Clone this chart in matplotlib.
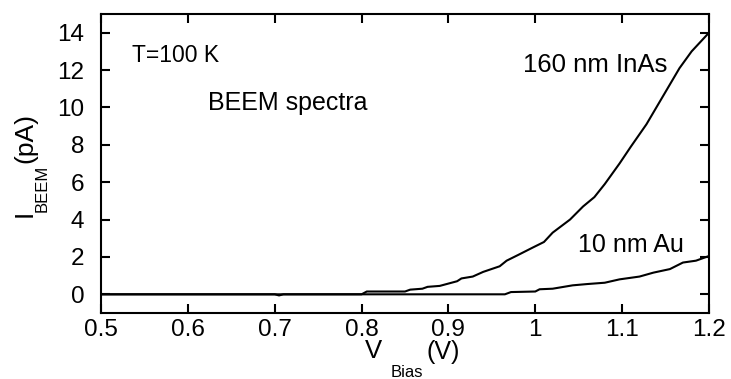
import numpy as np
import matplotlib
matplotlib.use('Agg')
import matplotlib.pyplot as plt

plt.rcParams['font.family'] = ['Liberation Sans', 'DejaVu Sans']

# 160 nm InAs spectrum
v_inas = [0.5, 0.70, 0.705, 0.71, 0.80, 0.806, 0.85, 0.856, 0.87, 0.876, 0.89, 0.898,
          0.91, 0.915, 0.928, 0.94, 0.959, 0.967, 0.98, 0.997, 1.01, 1.02, 1.04, 1.055,
          1.068, 1.08, 1.097, 1.11, 1.128, 1.147, 1.166, 1.18, 1.19, 1.2]
i_inas = [0, 0, -0.06, 0, 0, 0.15, 0.15, 0.25, 0.3, 0.4, 0.45, 0.55,
          0.7, 0.85, 0.95, 1.2, 1.5, 1.8, 2.1, 2.5, 2.8, 3.3, 4.0, 4.7,
          5.2, 5.9, 7.0, 7.9, 9.1, 10.6, 12.1, 13.0, 13.5, 14.0]

# 10 nm Au spectrum
v_au = [0.5, 0.965, 0.972, 1.0, 1.005, 1.02, 1.043, 1.06, 1.08, 1.097, 1.12, 1.136,
        1.155, 1.17, 1.185, 1.2]
i_au = [0, 0, 0.12, 0.15, 0.27, 0.3, 0.48, 0.55, 0.62, 0.8, 0.95, 1.16,
        1.35, 1.7, 1.8, 2.05]

xticks = [0.5, 0.6, 0.7, 0.8, 0.9, 1.0, 1.1, 1.2]
xticklabels = ['0.5', '0.6', '0.7', '0.8', '0.9', '1', '1.1', '1.2']
yticks = [0, 2, 4, 6, 8, 10, 12, 14]

W, H = 731, 379
fig = plt.figure(figsize=(W / 100, H / 100), dpi=100)
ax = fig.add_axes([101 / W, 1 - 313 / H, 608 / W, 299 / H])


def ptext(x, y, s, size, **kw):
    # place text by pixel position (left, baseline) in the figure
    fig.text(x / W, 1 - y / H, s, fontsize=size, ha='left', va='baseline',
             rotation_mode='anchor', **kw)


ax.plot(v_inas, i_inas, color='black', lw=1.5)
ax.plot(v_au, i_au, color='black', lw=1.5)

ax.set_xlim(0.5, 1.2)
ax.set_ylim(-1, 15)
ax.set_xticks(xticks)
ax.set_xticklabels(xticklabels)
ax.set_yticks(yticks)
ax.tick_params(direction='in', length=6.5, width=1.5, labelsize=17.5,
               top=True, right=True)
ax.tick_params(axis='x', pad=4)
ax.tick_params(axis='y', pad=12)
for s in ax.spines.values():
    s.set_linewidth(1.5)

# axis labels with low-set subscripts, as in the original
ptext(365, 358, 'V', 18.5)
ptext(391, 377, 'Bias', 12)
ptext(426, 359, '(V)', 18)

ptext(32, 217, 'I', 19, rotation=90)
ptext(47, 212, 'BEEM', 12, rotation=90)
ptext(32, 163, '(pA)', 19, rotation=90)

ptext(132, 62, 'T=100 K', 16.5)
ptext(208, 110, 'BEEM spectra', 18)
ptext(523, 72, '160 nm InAs', 18.5)
ptext(578, 252, '10 nm Au', 18)

fig.savefig('out.png', dpi=100)
